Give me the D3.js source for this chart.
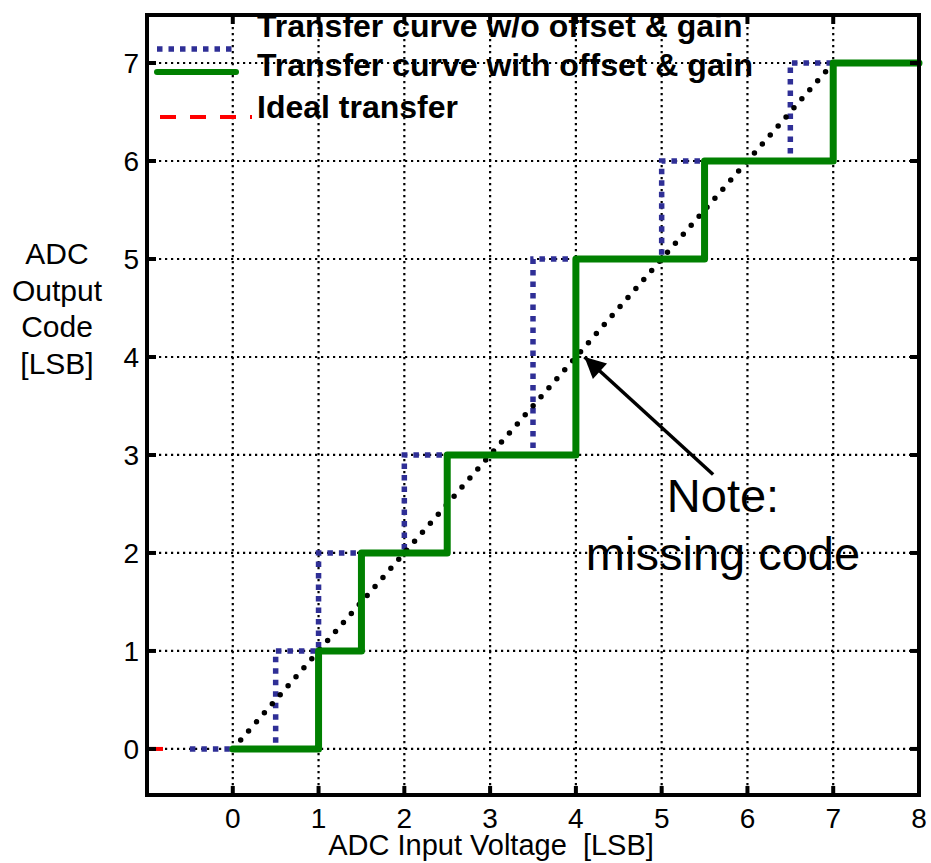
<!DOCTYPE html>
<html>
<head>
<meta charset="utf-8">
<title>ADC transfer curve</title>
<script src="https://cdn.jsdelivr.net/npm/d3@7"></script>
<style>
  body { margin: 0; background: #fff; }
  text { font-family: "Liberation Sans", Arial, sans-serif; }
</style>
</head>
<body>
<div id="chart"></div>
<script>
var W = 931, H = 863;

// tick values
var xTicks = [0, 1, 2, 3, 4, 5, 6, 7, 8];
var yTicks = [0, 1, 2, 3, 4, 5, 6, 7];

// transfer curve w/o offset & gain (step corners)
var rawX = [-0.5, 0.5, 0.5, 1, 1, 2, 2, 3.5, 3.5, 5, 5, 6.5, 6.5, 7.55];
var rawY = [0, 0, 1, 1, 2, 2, 3, 3, 5, 5, 6, 6, 7, 7];

// transfer curve with offset & gain
var offX = [0, 1, 1, 1.5, 1.5, 2.5, 2.5, 4, 4, 5.5, 5.5, 7, 7, 8];
var offY = [0, 0, 1, 1, 2, 2, 3, 3, 5, 5, 6, 6, 7, 7];

// ideal transfer
var idealX = [-1, -0.5];
var idealY = [0, 0];
var diagX = [0, 7];
var diagY = [0, 7];

// annotation arrow: tail -> tip
var arrowX = [5.6, 4.1];
var arrowY = [2.8, 4.0];

var legendLabels = ["Transfer curve w/o offset & gain", "Transfer curve with offset & gain", "Ideal transfer"];

var pLeft = 147, pRight = 919, pTop = 15, pBottom = 795;

var x = d3.scaleLinear().domain([-1, 8]).range([pLeft, pRight]);
var y = d3.scaleLinear().domain([-0.47, 7.49]).range([pBottom, pTop]);

var svg = d3.select("#chart").append("svg")
  .attr("width", W).attr("height", H);

// grid
var grid = svg.append("g");
grid.selectAll("line.vx").data(xTicks.filter(function(d){ return d < 8; }))
  .enter().append("line")
  .attr("x1", function(d){ return x(d); }).attr("x2", function(d){ return x(d); })
  .attr("y1", pTop).attr("y2", pBottom)
  .attr("stroke", "#000").attr("stroke-width", 2.2).attr("stroke-dasharray", "2.2,3.8");
grid.selectAll("line.hy").data(yTicks)
  .enter().append("line")
  .attr("y1", function(d){ return y(d); }).attr("y2", function(d){ return y(d); })
  .attr("x1", pLeft).attr("x2", pRight)
  .attr("stroke", "#000").attr("stroke-width", 2.2).attr("stroke-dasharray", "2.2,3.8");

function pts(xs, ys) { return xs.map(function(v, i){ return [x(v), y(ys[i])]; }); }
var line = d3.line();

// ideal (red dashed)
svg.append("path").attr("d", line(pts(idealX, idealY)))
  .attr("fill", "none").attr("stroke", "#ff0000").attr("stroke-width", 4)
  .attr("stroke-dasharray", "16,100");

// raw curve (blue dotted)
svg.append("path").attr("d", line(pts(rawX, rawY)))
  .attr("fill", "none").attr("stroke", "#2f2f96").attr("stroke-width", 5.5)
  .attr("stroke-dasharray", "5.5,6");

// ideal diagonal (black dotted)
svg.append("path").attr("d", line(pts(diagX, diagY)))
  .attr("fill", "none").attr("stroke", "#000").attr("stroke-width", 5.5)
  .attr("stroke-linecap", "round").attr("stroke-dasharray", "0,12");

// offset/gain curve (green)
svg.append("path").attr("d", line(pts(offX, offY)))
  .attr("fill", "none").attr("stroke", "#008000").attr("stroke-width", 7)
  .attr("stroke-linejoin", "round").attr("stroke-linecap", "round");

// arrow
svg.append("defs").append("marker")
  .attr("id", "ah").attr("viewBox", "0 0 10 10").attr("refX", 10).attr("refY", 5)
  .attr("markerWidth", 7).attr("markerHeight", 6).attr("markerUnits", "strokeWidth")
  .attr("orient", "auto")
  .append("path").attr("d", "M0,0 L10,5 L0,10 z").attr("fill", "#000");
svg.append("line")
  .attr("x1", x(arrowX[0])).attr("y1", y(arrowY[0]))
  .attr("x2", x(arrowX[1])).attr("y2", y(arrowY[1]))
  .attr("stroke", "#000").attr("stroke-width", 3.5)
  .attr("marker-end", "url(#ah)");

svg.append("text").attr("x", 723).attr("y", 512).attr("text-anchor", "middle")
  .attr("font-size", 47).text("Note:");
svg.append("text").attr("x", 723).attr("y", 570).attr("text-anchor", "middle")
  .attr("font-size", 47).text("missing code");

// legend
var lg = svg.append("g");
lg.append("line").attr("x1", 157).attr("x2", 232).attr("y1", 49).attr("y2", 49)
  .attr("stroke", "#2f2f96").attr("stroke-width", 5.5).attr("stroke-dasharray", "5.5,6");
lg.append("line").attr("x1", 157).attr("x2", 236).attr("y1", 72).attr("y2", 72)
  .attr("stroke", "#008000").attr("stroke-width", 6).attr("stroke-linecap", "round");
lg.append("line").attr("x1", 160).attr("x2", 252).attr("y1", 117).attr("y2", 117)
  .attr("stroke", "#ff0000").attr("stroke-width", 4).attr("stroke-dasharray", "16,14");
lg.selectAll("text").data(legendLabels).enter().append("text")
  .attr("x", 257).attr("y", function(d, i){ return [37, 76, 118][i]; })
  .attr("font-size", 32).attr("font-weight", "bold").text(function(d){ return d; });

// ticks
var tk = svg.append("g").attr("stroke", "#000").attr("stroke-width", 4);
xTicks.filter(function(d){ return d < 8; }).forEach(function(d){
  tk.append("line").attr("x1", x(d)).attr("x2", x(d)).attr("y1", pBottom).attr("y2", pBottom - 9);
  tk.append("line").attr("x1", x(d)).attr("x2", x(d)).attr("y1", pTop).attr("y2", pTop + 9);
});
yTicks.forEach(function(d){
  tk.append("line").attr("y1", y(d)).attr("y2", y(d)).attr("x1", pLeft).attr("x2", pLeft + 9);
  tk.append("line").attr("y1", y(d)).attr("y2", y(d)).attr("x1", pRight).attr("x2", pRight - 9);
});

// frame
svg.append("rect").attr("x", pLeft).attr("y", pTop)
  .attr("width", pRight - pLeft).attr("height", pBottom - pTop)
  .attr("fill", "none").attr("stroke", "#000").attr("stroke-width", 4);

// tick labels
svg.selectAll("text.xt").data(xTicks).enter().append("text")
  .attr("x", function(d){ return x(d); }).attr("y", 828)
  .attr("text-anchor", "middle").attr("font-size", 28).text(function(d){ return d; });
svg.selectAll("text.yt").data(yTicks).enter().append("text")
  .attr("x", 139).attr("y", function(d){ return y(d) + 10; })
  .attr("text-anchor", "end").attr("font-size", 28).text(function(d){ return d; });

// axis titles
svg.append("text").attr("x", 491).attr("y", 855).attr("text-anchor", "middle")
  .attr("font-size", 29).attr("xml:space", "preserve").text("ADC Input Voltage  [LSB]");
["ADC", "Output", "Code", "[LSB]"].forEach(function(t, i){
  svg.append("text").attr("x", 57).attr("y", 264 + i * 36.5).attr("text-anchor", "middle")
    .attr("font-size", 30).text(t);
});
</script>
</body>
</html>
